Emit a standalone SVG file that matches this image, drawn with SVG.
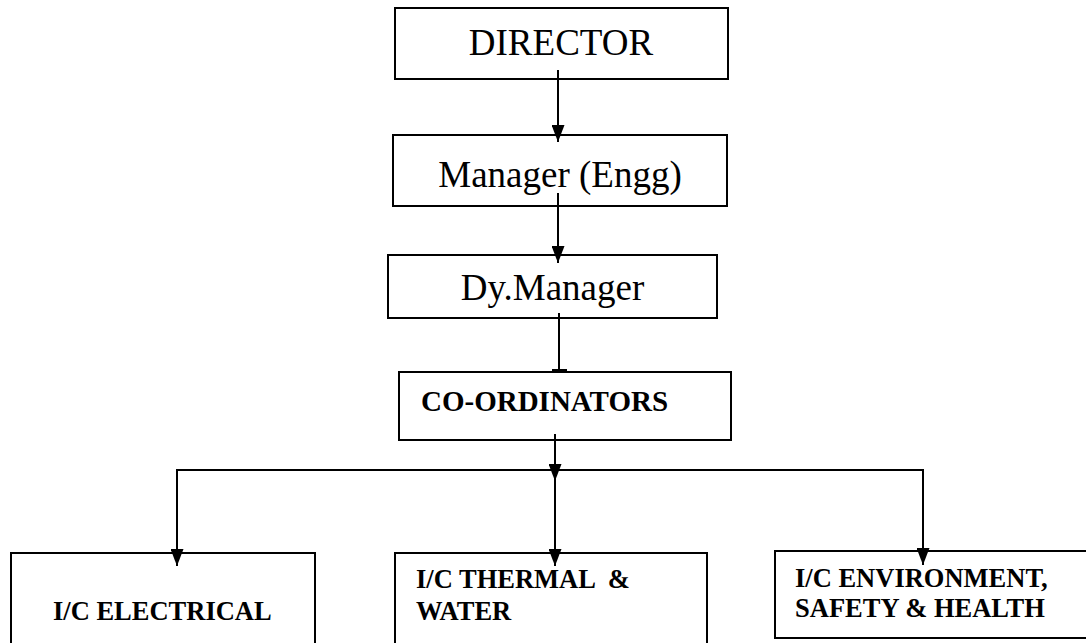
<svg xmlns="http://www.w3.org/2000/svg" width="1086" height="643" viewBox="0 0 1086 643">
<style>
.box{fill:#fff;stroke:#000;stroke-width:2}
.ln{fill:none;stroke:#000;stroke-width:2}
.t1{font-family:"Liberation Serif","Times New Roman",serif;font-size:37px;fill:#000}
.t2{font-family:"Liberation Serif","Times New Roman",serif;font-size:26.5px;font-weight:bold;fill:#000}
</style>
<defs>
<marker id="ah" viewBox="0 0 17 13" refX="17" refY="6.5" markerWidth="17" markerHeight="13" markerUnits="userSpaceOnUse" orient="auto">
<path d="M0,0 L17,6.5 L0,13 z" fill="#000"/>
</marker>
</defs>
<rect width="1086" height="643" fill="#fff"/>
<g id="director">
<rect class="box" x="395" y="8" width="333" height="71"/>
<text class="t1" x="561" y="55" text-anchor="middle">DIRECTOR</text>
</g>
<g id="manager">
<rect class="box" x="393" y="135" width="334" height="71"/>
<text class="t1" x="560" y="187" text-anchor="middle">Manager (Engg)</text>
</g>
<g id="dymanager">
<rect class="box" x="388" y="255" width="329" height="63"/>
<text class="t1" x="552.5" y="300" text-anchor="middle">Dy.Manager</text>
</g>
<g id="coordinators">
<rect class="box" x="399" y="372" width="332" height="68"/>
<text class="t2" x="421" y="411" style="font-size:29px">CO-ORDINATORS</text>
</g>
<g id="electrical">
<path class="box" d="M11,650 L11,553 L315,553 L315,650"/>
<text class="t2" x="53" y="620">I/C ELECTRICAL</text>
</g>
<g id="thermal">
<path class="box" d="M395,650 L395,553 L707,553 L707,650"/>
<text class="t2" x="416" y="588" xml:space="preserve">I/C THERMAL  &amp;</text>
<text class="t2" x="416" y="620">WATER</text>
</g>
<g id="environment">
<rect class="box" x="775" y="551" width="320" height="87"/>
<text class="t2" x="795" y="587">I/C ENVIRONMENT,</text>
<text class="t2" x="795" y="617">SAFETY &amp; HEALTH</text>
</g>
<g id="connectors">
<line class="ln" x1="558" y1="70" x2="558" y2="142" marker-end="url(#ah)"/>
<line class="ln" x1="558" y1="193" x2="558" y2="263" marker-end="url(#ah)"/>
<line class="ln" x1="559" y1="313" x2="559" y2="371"/>
<rect x="552" y="369" width="15" height="3" fill="#000"/>
<line class="ln" x1="555" y1="434" x2="555" y2="481" marker-end="url(#ah)"/>
<line class="ln" x1="177" y1="470" x2="923" y2="470"/>
<line class="ln" x1="177" y1="469" x2="177" y2="566" marker-end="url(#ah)"/>
<line class="ln" x1="555" y1="478" x2="555" y2="566" marker-end="url(#ah)"/>
<line class="ln" x1="923" y1="469" x2="923" y2="565" marker-end="url(#ah)"/>
</g>
</svg>
